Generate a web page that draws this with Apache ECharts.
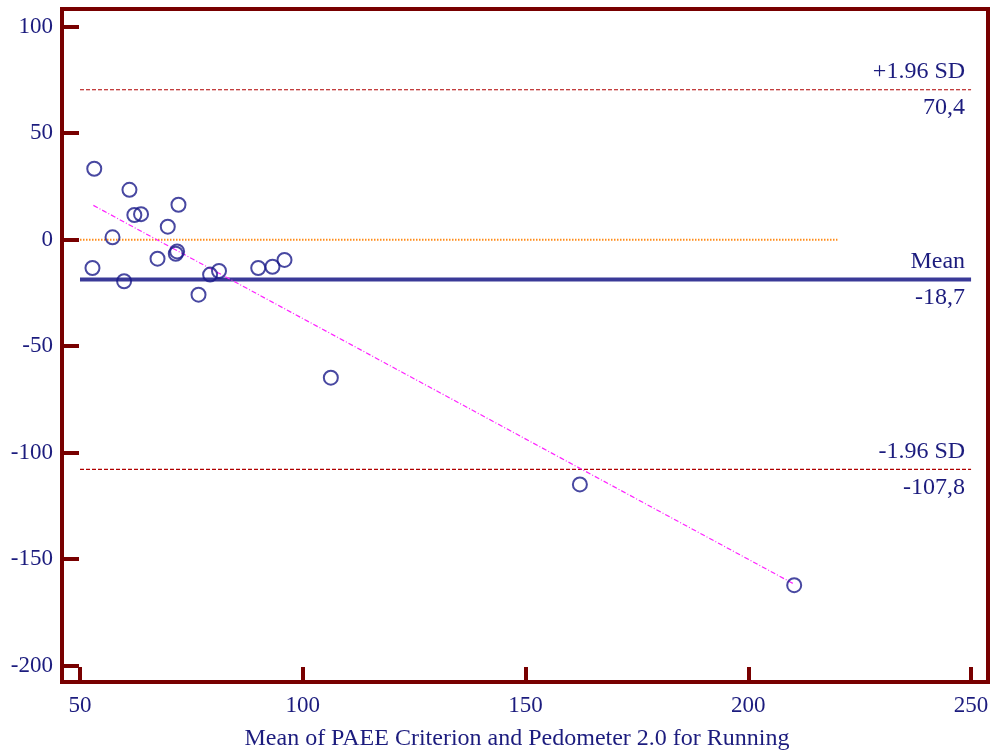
<!DOCTYPE html>
<html>
<head>
<meta charset="utf-8">
<script src="https://cdn.jsdelivr.net/npm/echarts@6/dist/echarts.min.js"></script>
<style>
html,body{margin:0;padding:0;background:#fff;}
#chart{width:995px;height:756px;}
</style>
</head>
<body>
<div id="chart"></div>
<script>
// Mean of the two methods (x) and their difference (y)
const meanValues = [53.2, 61.1, 62.2, 63.7, 72.1, 69.7, 57.3, 52.8, 59.9, 67.4, 71.5, 71.8, 76.6, 79.2, 81.2, 90.0, 93.2, 95.9, 106.3, 162.2, 210.3];
const diffValues = [33.3, 23.4, 11.6, 12.0, 16.4, 6.1, 1.1, -13.3, -19.5, -8.9, -6.6, -5.5, -25.8, -16.4, -14.7, -13.3, -12.7, -9.5, -64.8, -114.9, -162.2];

// Reference lines
const meanDiff = -18.7;
const upperLimit = 70.4;
const lowerLimit = -107.8;
const limitRange = [50, 250];
const zeroRange = [50, 220];
const regressionX = [53.0, 210.3];
const regressionY = [16.1, -161.7];

const upperLabels = ['+1.96 SD', '70,4'];
const meanLabels = ['Mean', '-18,7'];
const lowerLabels = ['-1.96 SD', '-107,8'];
const xTitle = 'Mean of PAEE Criterion and Pedometer 2.0 for Running';

const NAVY = '#1c1c7e';
const MAROON = '#780000';
const FONT = "'Liberation Serif', 'Times New Roman', serif";

const points = meanValues.map((x, i) => [x, diffValues[i]]);

function hLine(value, style, z) {
  return {
    type: 'line', silent: true, symbol: 'none', z: z,
    data: limitRange.map(x => [x, value]),
    lineStyle: style
  };
}

function labelPair(value, labels) {
  const lbl = (text, pos) => ({
    show: true, formatter: text, position: pos, distance: 6,
    color: NAVY, fontFamily: FONT, fontSize: 24
  });
  return [
    [{coord: [limitRange[0], value], label: lbl(labels[0], 'insideEndTop')}, {coord: [limitRange[1], value]}],
    [{coord: [limitRange[0], value], label: lbl(labels[1], 'insideEndBottom')}, {coord: [limitRange[1], value]}]
  ];
}

const chart = echarts.init(document.getElementById('chart'), null, {renderer: 'canvas'});
chart.setOption({
  animation: false,
  backgroundColor: '#fff',
  grid: {
    left: 62, right: 7, top: 9, bottom: 74,
    show: true, borderColor: MAROON, borderWidth: 4, backgroundColor: 'transparent'
  },
  xAxis: {
    type: 'value', min: 45.96, max: 253.8,
    axisLine: {show: false, onZero: false},
    splitLine: {show: false},
    axisTick: {show: true, inside: true, length: 15, lineStyle: {color: MAROON, width: 4}},
    axisLabel: {color: NAVY, fontFamily: FONT, fontSize: 23, margin: 12, showMinLabel: false, showMaxLabel: false}
  },
  yAxis: {
    type: 'value', min: -207.65, max: 108.3,
    axisLine: {show: false, onZero: false},
    splitLine: {show: false},
    axisTick: {show: true, inside: true, length: 17, lineStyle: {color: MAROON, width: 4}},
    axisLabel: {color: NAVY, fontFamily: FONT, fontSize: 23, margin: 9, showMinLabel: false, showMaxLabel: false}
  },
  graphic: [{
    type: 'text', x: 517, y: 739,
    style: {text: xTitle, textAlign: 'center', textVerticalAlign: 'middle', font: '24px ' + FONT, fill: NAVY}
  }],
  series: [
    {
      type: 'line', silent: true, symbol: 'none', z: 1,
      data: zeroRange.map(x => [x, 0]),
      lineStyle: {color: '#ff8c1a', width: 2, type: [1.5, 1.5]}
    },
    hLine(upperLimit, {color: '#b00000', width: 1.2, type: [4, 2]}, 2),
    hLine(lowerLimit, {color: '#b00000', width: 1.2, type: [4, 2]}, 2),
    hLine(meanDiff, {color: '#3a3a98', width: 4, type: 'solid'}, 2),
    {
      type: 'line', silent: true, symbol: 'none', data: [], z: 2,
      markLine: {
        symbol: 'none', silent: true, animation: false,
        lineStyle: {color: 'rgba(255,255,255,0)', width: 1, type: 'solid'},
        data: [].concat(
          labelPair(upperLimit, upperLabels),
          labelPair(lowerLimit, lowerLabels),
          labelPair(meanDiff, meanLabels)
        )
      }
    },
    {
      type: 'line', silent: true, symbol: 'none', z: 3,
      data: regressionX.map((x, i) => [x, regressionY[i]]),
      lineStyle: {color: '#ff22ff', width: 1.2, type: [5, 2, 1, 2]}
    },
    {
      type: 'scatter', silent: true, z: 4,
      data: points,
      symbol: 'circle', symbolSize: 14,
      itemStyle: {color: 'rgba(255,255,255,0)', borderColor: '#1a1a8a', borderWidth: 2}
    }
  ]
});
</script>
</body>
</html>
